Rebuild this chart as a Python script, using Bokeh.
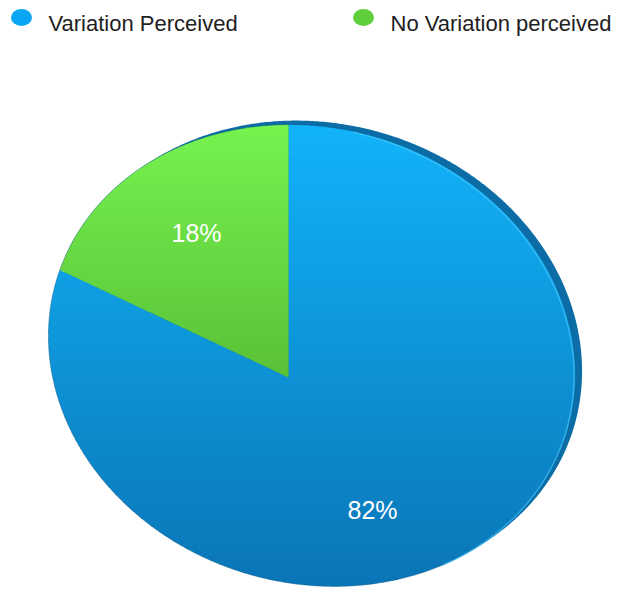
import numpy as np
from bokeh.plotting import figure
from bokeh.models import Range1d
from bokeh.embed import file_html
from bokeh.resources import INLINE
from bokeh.core.properties import value

# ---------------- data ----------------
categories = ["Variation Perceived", "No Variation perceived"]
percent = [82, 18]
slice_labels = ["82%", "18%"]
legend_colors = ["#0aa5f3", "#5ecf3b"]
top_colors = ["#12b3fa", "#76f34f"]
bottom_colors = ["#0a75b6", "#5ac137"]

# ---------------- layout constants ----------------
W, H = 617, 589
XC, YC = 311.5, 355.0            # centre of the (tilted) pie outline
QA, QB, QC = 1.450e-5, -2.797e-6, 1.889e-5   # conic of the outline
AX, AY = 288.0, 377.0            # apex where the slices meet
RIM_DX, RIM_DY = 6.5, -4.0       # 3-D thickness offset
LABEL_F = 0.67
LEG_X = [21, 363]
LEG_Y = 17
FONT = "Liberation Sans"

p = figure(width=W, height=H, x_range=Range1d(0, W), y_range=Range1d(H, 0),
           x_axis_type=None, y_axis_type=None, output_backend="svg",
           toolbar_location=None, min_border=0)
p.grid.visible = False
p.outline_line_color = None
p.background_fill_color = "white"
p.border_fill_color = "white"


def q(vx, vy):
    return QA * vx * vx + QB * vx * vy + QC * vy * vy


def edge_point(theta):
    dx, dy = np.cos(theta), -np.sin(theta)
    px, py = AX - XC, AY - YC
    a = q(dx, dy)
    b = 2 * (QA * px * dx + QB / 2 * (px * dy + py * dx) + QC * py * dy)
    c = q(px, py) - 1
    t = (-b + np.sqrt(b * b - 4 * a * c)) / (2 * a)
    return AX + t * dx, AY + t * dy


def clip_half(pts, yb, keep_ge):
    out = []
    n = len(pts)
    if n == 0:
        return out
    def inside(pt):
        return pt[1] >= yb if keep_ge else pt[1] <= yb
    for i in range(n):
        cur = pts[i]
        prev = pts[i - 1]
        if inside(cur):
            if not inside(prev):
                t = (yb - prev[1]) / (cur[1] - prev[1])
                out.append((prev[0] + t * (cur[0] - prev[0]), yb))
            out.append(cur)
        elif inside(prev):
            t = (yb - prev[1]) / (cur[1] - prev[1])
            out.append((prev[0] + t * (cur[0] - prev[0]), yb))
    return out


def mix(c1, c2, f):
    a = [int(c1[i:i + 2], 16) for i in (1, 3, 5)]
    b = [int(c2[i:i + 2], 16) for i in (1, 3, 5)]
    return "#%02x%02x%02x" % tuple(int(round(a[k] + (b[k] - a[k]) * f)) for k in range(3))


# ---- 3-D rim (drawn first, offset copy of the outline) ----
full = np.linspace(0, 2 * np.pi, 721)
ox, oy = edge_point(full)
p.patch(ox + RIM_DX, oy + RIM_DY, fill_color="#0b6ca6", line_color=None)

# ---- slices with vertical gradient ----
band_xs, band_ys, band_cols = [], [], []
cum = 0.0
label_pos = []
for i, v in enumerate(percent):
    start = np.pi / 2 - 2 * np.pi * cum / 100.0
    end = np.pi / 2 - 2 * np.pi * (cum + v) / 100.0
    th = np.linspace(start, end, max(int(abs(end - start) * 120), 20))
    ex, ey = edge_point(th)
    poly = [(AX, AY)] + list(zip(ex, ey))
    ymin = min(pt[1] for pt in poly)
    ymax = max(pt[1] for pt in poly)
    nb = 60
    edges = np.linspace(ymin - 1, ymax + 1, nb + 1)
    for k in range(nb):
        y0, y1 = edges[k] - 0.6, edges[k + 1] + 0.6
        part = clip_half(clip_half(poly, y0, True), y1, False)
        if len(part) >= 3:
            band_xs.append([pt[0] for pt in part])
            band_ys.append([pt[1] for pt in part])
            f = ((edges[k] + edges[k + 1]) / 2 - ymin) / (ymax - ymin)
            band_cols.append(mix(top_colors[i], bottom_colors[i], f))
    mid = (start + end) / 2
    mx, my = edge_point(np.array([mid]))
    label_pos.append((AX + LABEL_F * (mx[0] - AX), AY + LABEL_F * (my[0] - AY)))
    cum += v

p.patches(band_xs, band_ys, fill_color=band_cols, line_color=None)

# outline shading of the face
p.line(ox, oy, line_color="#0a5a88", line_alpha=0.45, line_width=1)
# light highlight along the right face edge
hl = np.linspace(np.radians(75), np.radians(-50), 200)
hx, hy = edge_point(hl)
p.line(hx - 1.5, hy + 0.8, line_color="#48c8ff", line_alpha=0.6, line_width=1.5)

# ---- percentage labels ----
p.text(x=[pt[0] for pt in label_pos], y=[pt[1] for pt in label_pos], text=slice_labels,
       text_font=value(FONT), text_font_size="25px", text_color="white",
       text_align="center", text_baseline="middle")

# ---- legend ----
p.ellipse(x=LEG_X, y=[LEG_Y] * 2, width=21, height=17, fill_color=legend_colors, line_color=None)
p.text(x=[lx + 27 for lx in LEG_X], y=[LEG_Y + 6] * 2, text=categories,
       text_font=value(FONT), text_font_size="22px", text_color="#1e1e1e",
       text_align="left", text_baseline="alphabetic")

open("out.html", "w").write(file_html(p, INLINE))
